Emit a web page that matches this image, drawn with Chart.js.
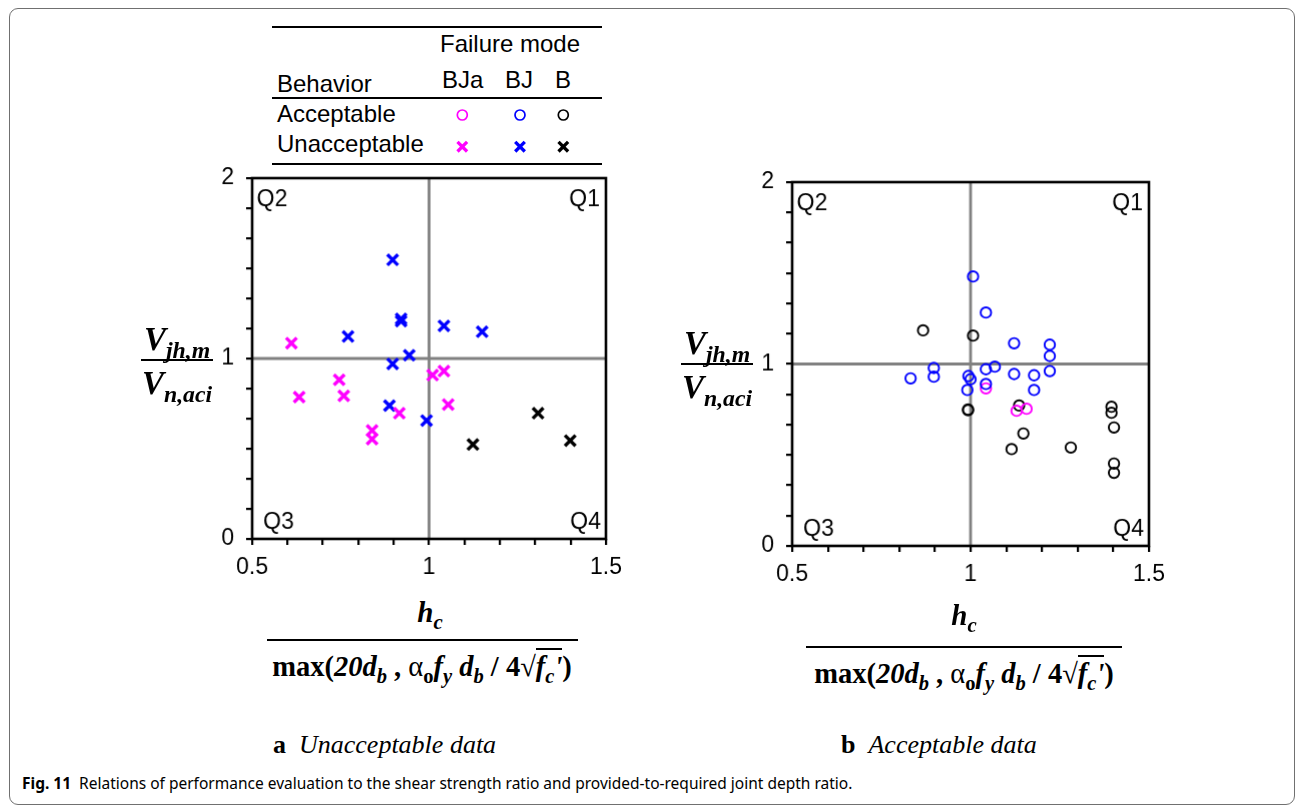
<!DOCTYPE html>
<html>
<head>
<meta charset="utf-8">
<script src="https://cdn.jsdelivr.net/npm/chart.js@4.4.1/dist/chart.umd.min.js"></script>
<style>
body{margin:0;width:1295px;height:806px;background:#fff;position:relative;overflow:hidden;font-family:'Liberation Sans',Arial,sans-serif;color:#000}
.frame{position:absolute;left:9px;top:8px;width:1286px;height:797px;border:1.5px solid #707070;border-radius:9px;box-sizing:border-box}
.abs{position:absolute;white-space:nowrap}
.lg{font-size:24px;line-height:24px}
.rule{position:absolute;background:#000}
.vt{font-family:'Liberation Serif',serif;font-weight:bold;font-style:italic;font-size:33px;line-height:33px;text-align:center}
.vt sub,.den sub,.num sub{font-size:0.72em;vertical-align:-0.32em;line-height:0}
.num{font-family:'Liberation Serif',serif;font-weight:bold;font-style:italic;font-size:29px;line-height:29px;text-align:center}
.den{font-family:'Liberation Serif',serif;font-weight:bold;font-size:28.5px;line-height:28px;text-align:center}
.den i{font-style:italic}
.den .up{font-style:normal}
.rad{border-top:2px solid #000;padding-top:1px}
.sub{font-family:'Liberation Serif',serif;font-size:26px;line-height:26px}
.cap{font-family:'Noto Sans',sans-serif;font-size:15.5px;line-height:16px}
</style>
</head>
<body>
<div class="frame"></div>

<!-- legend table -->
<div class="rule" style="left:272px;top:25.5px;width:330px;height:2.6px"></div>
<div class="abs lg" style="left:440px;top:32px">Failure mode</div>
<div class="abs lg" style="left:277px;top:71.5px">Behavior</div>
<div class="abs lg" style="left:442px;top:67.5px">BJa</div>
<div class="abs lg" style="left:505px;top:67.5px">BJ</div>
<div class="abs lg" style="left:555px;top:67.5px">B</div>
<div class="rule" style="left:272px;top:96.5px;width:330px;height:2.6px"></div>
<div class="abs lg" style="left:277px;top:101.5px">Acceptable</div>
<div class="abs lg" style="left:277px;top:131.5px">Unacceptable</div>
<div class="rule" style="left:272px;top:162.8px;width:330px;height:2.6px"></div>
<svg class="abs" style="left:0;top:0" width="620" height="170">
  <circle cx="462.3" cy="115" r="5" fill="none" stroke="#ff00ff" stroke-width="1.7"/>
  <circle cx="520" cy="115" r="5" fill="none" stroke="#0000ff" stroke-width="1.7"/>
  <circle cx="563.3" cy="115" r="5" fill="none" stroke="#000" stroke-width="1.7"/>
  <path d="M457.5 141.9l9.6 9.6M467.1 141.9l-9.6 9.6" stroke="#ff00ff" stroke-width="3.3"/>
  <path d="M515.2 141.9l9.6 9.6M524.8 141.9l-9.6 9.6" stroke="#0000ff" stroke-width="3.3"/>
  <path d="M558.5 141.9l9.6 9.6M568.1 141.9l-9.6 9.6" stroke="#000" stroke-width="3.3"/>
</svg>

<canvas id="chartA"></canvas>
<canvas id="chartB"></canvas>

<!-- y titles -->
<div class="abs vt" style="left:131px;top:323px;width:92px">V<sub>jh,m</sub></div>
<div class="rule" style="left:141px;top:359px;width:72px;height:2.4px"></div>
<div class="abs vt" style="left:131px;top:367px;width:92px">V<sub>n,aci</sub></div>

<div class="abs vt" style="left:671px;top:327px;width:92px">V<sub>jh,m</sub></div>
<div class="rule" style="left:681px;top:363px;width:72px;height:2.4px"></div>
<div class="abs vt" style="left:671px;top:371px;width:92px">V<sub>n,aci</sub></div>

<!-- x titles -->
<div class="abs num" style="left:372px;top:598px;width:116px">h<sub>c</sub></div>
<div class="rule" style="left:267px;top:639px;width:311px;height:2.4px"></div>
<div class="abs den" style="left:222px;top:653px;width:400px">max(<i>20d<sub>b</sub></i> , <span class="up" style="font-weight:normal">α</span><sub>o</sub><i>f<sub>y</sub> d<sub>b</sub></i> / 4<span class="up" style="font-weight:normal">√</span><span class="rad"><i>f<sub>c</sub>'</i></span>)</div>

<div class="abs num" style="left:906px;top:601px;width:116px">h<sub>c</sub></div>
<div class="rule" style="left:806px;top:646px;width:316px;height:2.4px"></div>
<div class="abs den" style="left:764px;top:660px;width:400px">max(<i>20d<sub>b</sub></i> , <span class="up" style="font-weight:normal">α</span><sub>o</sub><i>f<sub>y</sub> d<sub>b</sub></i> / 4<span class="up" style="font-weight:normal">√</span><span class="rad"><i>f<sub>c</sub>'</i></span>)</div>

<!-- panel subtitles -->
<div class="abs sub" style="left:273px;top:732px"><b>a</b>&nbsp; <i>Unacceptable data</i></div>
<div class="abs sub" style="left:841px;top:732px"><b>b</b>&nbsp; <i>Acceptable data</i></div>

<div class="abs cap" style="left:22px;top:775px"><b>Fig. 11</b>&nbsp; Relations of performance evaluation to the shear strength ratio and provided-to-required joint depth ratio.</div>

<script>
// axes
const xMin = 0.5, xMax = 1.5, yMin = 0, yMax = 2;
const xTickValues = [0.5, 0.6, 0.7, 0.8, 0.9, 1.0, 1.1, 1.2, 1.3, 1.4, 1.5];
const yTickValues = [0, 1/6, 2/6, 3/6, 4/6, 5/6, 1, 7/6, 8/6, 9/6, 10/6, 11/6, 2];
const xTickLabels = [0.5, 1, 1.5];
const yTickLabels = [0, 1, 2];
const refX = 1, refY = 1;
const quadrantLabels = ['Q1', 'Q2', 'Q3', 'Q4'];

// (a) unacceptable data, [x, y]
const unacceptableBJa = [[0.611,1.085],[0.746,0.882],[0.633,0.786],[0.759,0.793],[0.839,0.601],[0.839,0.553],
  [0.916,0.697],[1.010,0.908],[1.042,0.930],[1.054,0.745]];
const unacceptableBJ = [[0.897,1.547],[0.921,1.220],[0.921,1.207],[1.042,1.181],[1.150,1.148],[0.771,1.122],
  [0.944,1.018],[0.897,0.970],[0.888,0.739],[0.993,0.656]];
const unacceptableB = [[1.124,0.523],[1.308,0.697],[1.399,0.545]];

// (b) acceptable data, [x, y]
const acceptableBJa = [[1.043,0.866],[1.129,0.743],[1.157,0.754]];
const acceptableBJ = [[1.007,1.481],[1.043,1.283],[1.122,1.114],[1.222,1.106],[1.222,1.044],[1.222,0.961],
  [0.897,0.978],[0.897,0.930],[0.832,0.921],[0.994,0.934],[1.000,0.916],[0.991,0.857],[1.043,0.971],
  [1.068,0.985],[1.043,0.890],[1.122,0.945],[1.178,0.938],[1.178,0.857]];
const acceptableB = [[0.867,1.185],[1.007,1.156],[0.993,0.750],[0.993,0.746],[1.136,0.772],[1.148,0.618],
  [1.115,0.532],[1.281,0.541],[1.395,0.765],[1.395,0.732],[1.402,0.651],[1.402,0.453],[1.402,0.402]];

const MAGENTA = '#ff00ff', BLUE = '#0000ff', BLACK = '#000000';
const SANS = "'Liberation Sans', Arial, sans-serif";

function toPts(arr){ return arr.map(p => ({x: p[0], y: p[1]})); }

function crossSet(arr, color){
  return {data: toPts(arr), pointStyle: 'crossRot', pointRadius: 7.5, pointHoverRadius: 7.5,
    borderColor: color, pointBorderWidth: 3.4, backgroundColor: color};
}
function circleSet(arr, color){
  return {data: toPts(arr), pointStyle: 'circle', pointRadius: 5.2, pointHoverRadius: 5.2,
    borderColor: color, pointBorderWidth: 1.9, backgroundColor: 'rgba(0,0,0,0)'};
}

const frameLines = {
  id: 'frameLines',
  beforeDatasetsDraw(chart){
    const {ctx, chartArea: a, scales: {x, y}} = chart;
    ctx.save();
    ctx.strokeStyle = '#808080';
    ctx.lineWidth = 2.8;
    const px = x.getPixelForValue(refX), py = y.getPixelForValue(refY);
    ctx.beginPath();
    ctx.moveTo(px, a.top); ctx.lineTo(px, a.bottom);
    ctx.moveTo(a.left, py); ctx.lineTo(a.right, py);
    ctx.stroke();
    ctx.strokeStyle = '#000';
    ctx.lineWidth = 2.6;
    ctx.strokeRect(a.left, a.top, a.right - a.left, a.bottom - a.top);
    ctx.fillStyle = '#000';
    ctx.font = '23px ' + SANS;
    ctx.textBaseline = 'alphabetic';
    ctx.textAlign = 'right';
    ctx.fillText(quadrantLabels[0], a.right - 6, a.top + 27.5);
    ctx.fillText(quadrantLabels[3], a.right - 5, a.bottom - 10);
    ctx.textAlign = 'left';
    ctx.fillText(quadrantLabels[1], a.left + 4.5, a.top + 27.5);
    ctx.fillText(quadrantLabels[2], a.left + 11, a.bottom - 10);
    ctx.restore();
  }
};

function makeChart(id, area, datasets){
  const yW = 60, xH = 56, pad = 30;
  const cv = document.getElementById(id);
  const left = area.left - yW, top = area.top - pad;
  const w = area.right + pad - left, h = area.bottom + xH - top;
  cv.width = w; cv.height = h;
  cv.style.cssText = 'position:absolute;left:' + left + 'px;top:' + top + 'px;width:' + w + 'px;height:' + h + 'px';
  const isLabel = (list, v) => list.some(t => Math.abs(t - v) < 1e-6);
  return new Chart(cv, {
    type: 'scatter',
    data: {datasets: datasets},
    options: {
      responsive: false,
      animation: false,
      events: [],
      layout: {padding: {left: 0, top: pad, right: pad, bottom: 0}},
      plugins: {legend: {display: false}, tooltip: {enabled: false}},
      scales: {
        x: {
          type: 'linear', min: xMin, max: xMax,
          afterBuildTicks: s => { s.ticks = xTickValues.map(v => ({value: v})); },
          afterFit: s => { s.height = xH; },
          border: {display: false},
          grid: {drawOnChartArea: false, drawTicks: true, tickLength: 6, color: '#000', lineWidth: 2.2},
          ticks: {padding: 9, color: '#000', font: {family: SANS, size: 23}, maxRotation: 0, autoSkip: false,
            callback: v => isLabel(xTickLabels, v) ? String(+v.toFixed(1)) : ''}
        },
        y: {
          type: 'linear', min: yMin, max: yMax,
          afterBuildTicks: s => { s.ticks = yTickValues.map(v => ({value: v})); },
          afterFit: s => { s.width = yW; },
          border: {display: false},
          grid: {drawOnChartArea: false, drawTicks: true, tickLength: 6, color: '#000', lineWidth: 2.2},
          ticks: {padding: 12, color: '#000', font: {family: SANS, size: 23}, autoSkip: false,
            callback: v => isLabel(yTickLabels, v) ? String(Math.round(v)) : ''}
        }
      }
    },
    plugins: [frameLines]
  });
}

makeChart('chartA', {left: 252.3, right: 605.7, top: 178.3, bottom: 539}, [
  crossSet(unacceptableBJa, MAGENTA),
  crossSet(unacceptableBJ, BLUE),
  crossSet(unacceptableB, BLACK)
]);
makeChart('chartB', {left: 792.3, right: 1149, top: 182.3, bottom: 545.7}, [
  circleSet(acceptableBJ, BLUE),
  circleSet(acceptableBJa, MAGENTA),
  circleSet(acceptableB, BLACK)
]);
</script>
</body>
</html>
